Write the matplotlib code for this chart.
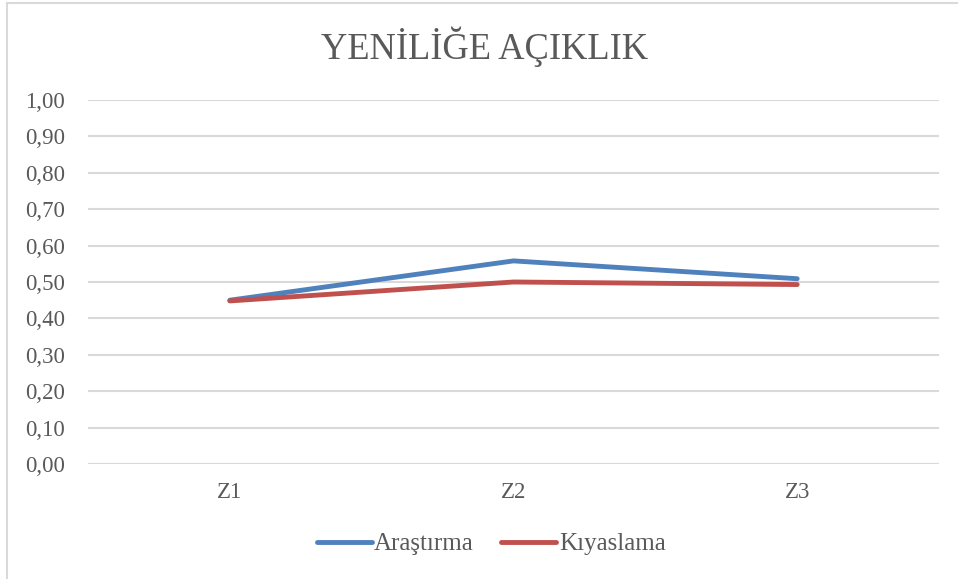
import matplotlib.pyplot as plt
from matplotlib.lines import Line2D

categories = ["Z1", "Z2", "Z3"]
arastirma = [0.45, 0.558, 0.509]
kiyaslama = [0.448, 0.50, 0.493]
yticks = [0.0, 0.1, 0.2, 0.3, 0.4, 0.5, 0.6, 0.7, 0.8, 0.9, 1.0]

plt.rcParams['font.family'] = ['Liberation Serif', 'DejaVu Serif']
grey = '#595959'

fig = plt.figure(figsize=(9.58, 5.79), dpi=100)
ax = fig.add_axes([88/958, 1 - 464/579, (939-88)/958, (464-100)/579])

x = range(len(categories))
ax.plot(x, arastirma, color='#4F81BD', lw=3.5, solid_capstyle='round', solid_joinstyle='round', label='Araştırma', zorder=3)
ax.plot(x, kiyaslama, color='#C0504D', lw=3.5, solid_capstyle='round', solid_joinstyle='round', label='Kıyaslama', zorder=3)

ax.set_xlim(-0.5, 2.5)
ax.set_ylim(0, 1.0)
ax.set_yticks(yticks)
ax.set_yticklabels([f"{v:.2f}".replace('.', ',') for v in yticks])
ax.set_xticks(list(x))
ax.set_xticklabels(categories)
ax.tick_params(axis='both', length=0, labelsize=16.5, colors=grey)
ax.tick_params(axis='y', pad=16.5)
ax.tick_params(axis='x', pad=13)
ax.grid(axis='y', color='#D9D9D9', lw=1.5)
ax.set_axisbelow(True)
for s in ax.spines.values():
    s.set_visible(False)

fig.text(485/958, 1 - 47/579, "YENİLİĞE AÇIKLIK", ha='center', va='center',
         fontsize=26.3, color=grey)

handles = [Line2D([], [], color='#4F81BD', lw=3.5, solid_capstyle='round'),
           Line2D([], [], color='#C0504D', lw=3.5, solid_capstyle='round')]
fig.legend(handles, ['Araştırma', 'Kıyaslama'], loc='center',
           bbox_to_anchor=(491/958, 1 - 544/579), ncol=2, frameon=False,
           fontsize=18, labelcolor=grey, handlelength=2.2, handletextpad=0.1,
           columnspacing=1.1, borderpad=0, borderaxespad=0)

# chart frame (only left and top edges visible)
fig.add_artist(Line2D([6.5/958, 6.5/958], [0, 1 - 2.5/579], transform=fig.transFigure, color='#D9D9D9', lw=1.5))
fig.add_artist(Line2D([6.5/958, 1], [1 - 2.5/579, 1 - 2.5/579], transform=fig.transFigure, color='#D9D9D9', lw=1.5))

fig.savefig('out.png', dpi=100)
